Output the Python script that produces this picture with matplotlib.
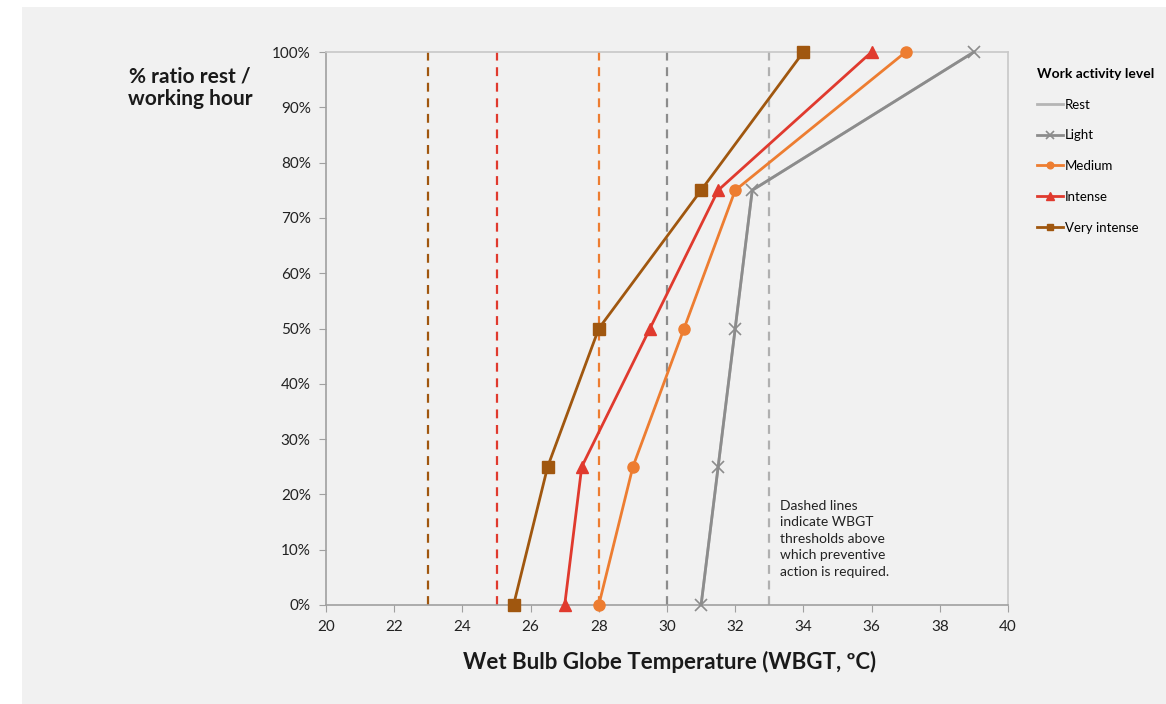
import matplotlib.pyplot as plt
from matplotlib.patches import Rectangle
from matplotlib.ticker import PercentFormatter

# --- data ---
ratio = [0, 25, 50, 75, 100]          # % ratio rest / working hour
rest = [31, 31.5, 32, 32.5, 39]        # hidden under "Light"
light = [31, 31.5, 32, 32.5, 39]
medium = [28, 29, 30.5, 32, 37]
intense = [27, 27.5, 29.5, 31.5, 36]
very_intense = [25.5, 26.5, 28, 31, 34]

thresholds = [23, 25, 28, 30, 33]
threshold_colors = ['#a0570f', '#e03a2e', '#ed7d31', '#8c8c8c', '#b0b0b0']

plt.rcParams['font.family'] = ['Lato', 'DejaVu Sans']

fig = plt.figure(figsize=(11.66, 7.04), dpi=100, facecolor='white')
# grey slide background, white strip top and left
fig.patches.append(Rectangle((22 / 1166, 0), 1, 1 - 7 / 704, transform=fig.transFigure,
                             facecolor='#f1f1f1', edgecolor='none', zorder=-10))

ax = fig.add_axes([326 / 1166, 1 - 605 / 704, (1008 - 326) / 1166, (605 - 52) / 704])
ax.set_facecolor('#f1f1f1')

for t, c in zip(thresholds, threshold_colors):
    ax.axvline(t, color=c, ls=(0, (4, 3)), lw=1.6, zorder=1)

ax.plot(rest, ratio, color='#b5b5b5', lw=2, label='Rest', zorder=2)
ax.plot(light, ratio, color='#8c8c8c', lw=2, marker='x', ms=9, mew=1.2, label='Light',
        zorder=3, clip_on=False)
ax.plot(medium, ratio, color='#ed7d31', lw=2, marker='o', ms=8, label='Medium',
        zorder=3, clip_on=False)
ax.plot(intense, ratio, color='#e03a2e', lw=2, marker='^', ms=9, label='Intense',
        zorder=3, clip_on=False)
ax.plot(very_intense, ratio, color='#a0570f', lw=2, marker='s', ms=8, label='Very intense',
        zorder=3, clip_on=False)

ax.set_xlim(20, 40)
ax.set_ylim(0, 100)
ax.set_xticks(range(20, 41, 2))
ax.set_yticks(range(0, 101, 10))
ax.yaxis.set_major_formatter(PercentFormatter(decimals=0))
ax.tick_params(labelsize=11, colors='#222222', length=5, color='#a0a0a0', pad=6)
for s in ax.spines.values():
    s.set_color('#c8c8c8')
    s.set_linewidth(1.2)
ax.spines['bottom'].set_color('#a0a0a0')
ax.spines['left'].set_color('#a0a0a0')

fig.text(190 / 1166, 1 - 88 / 704, '% ratio rest /\nworking hour', ha='center', va='center',
         fontsize=15, fontweight='bold', color='#1a1a1a', linespacing=1.15)
fig.text(670 / 1166, 1 - 662 / 704, 'Wet Bulb Globe Temperature (WBGT, ºC)', ha='center', va='center',
         fontsize=16, fontweight='bold', color='#1a1a1a')

ax.text(33.3, 19, 'Dashed lines\nindicate WBGT\nthresholds above\nwhich preventive\naction is required.',
        fontsize=10, color='#222222', va='top', ha='left', linespacing=1.45)

leg = fig.legend(loc='upper left', bbox_to_anchor=(1025 / 1166, 1 - 56 / 704), frameon=False,
                 title='Work activity level', fontsize=9.5, handlelength=2.0, handletextpad=0.1,
                 labelspacing=1.42, markerscale=0.6)
leg.get_title().set_fontweight('bold')
leg.get_title().set_fontsize(10)
leg._legend_box.align = 'left'

fig.savefig('out.png', dpi=100, facecolor=fig.get_facecolor())
